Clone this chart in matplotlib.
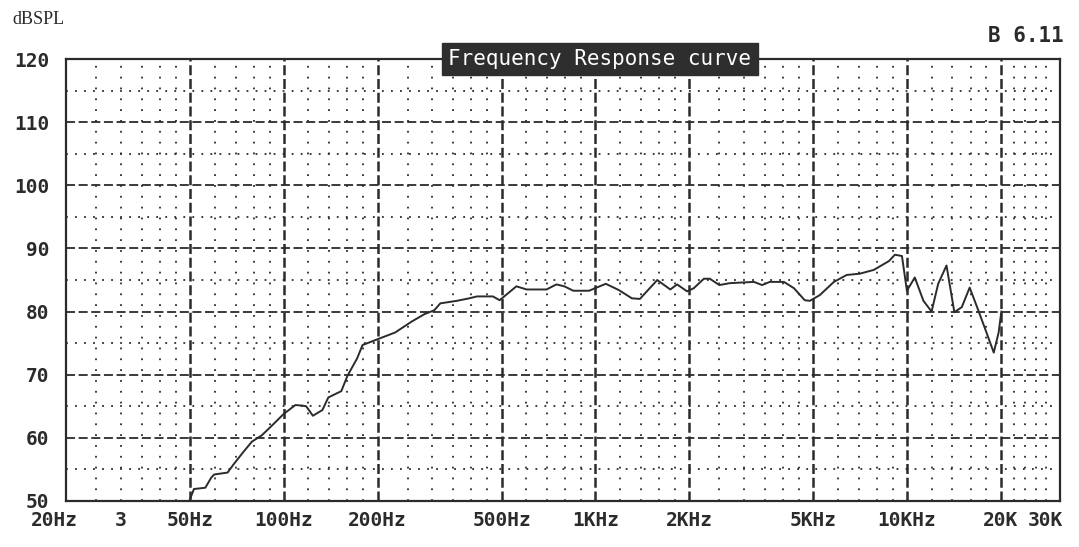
import numpy as np
import matplotlib
matplotlib.use("Agg")
from matplotlib import pyplot as plt
from matplotlib.transforms import ScaledTranslation

# frequency response (Hz, dBSPL)
freq = [50, 51.5, 56, 58.5, 59.8, 66, 69, 74, 79, 85, 91, 100, 109, 115, 118,
        124, 133, 139, 153, 160, 172, 179, 202, 228, 257, 283, 304, 318, 359,
        394, 417, 469, 493, 558, 602, 697, 750, 795, 850, 955, 1080, 1190,
        1310, 1390, 1580, 1740, 1830, 1970, 2070, 2230, 2330, 2500, 2700,
        3230, 3430, 3630, 4030, 4340, 4700, 4880, 5250, 5830, 6410, 7060,
        7830, 8760, 9150, 9640, 10000, 10600, 11300, 12000, 12600, 13400,
        14200, 15000, 15900, 16800, 18000, 19000, 19700, 20100]
spl = [50.3, 51.9, 52.1, 53.7, 54.2, 54.5, 55.8, 57.7, 59.4, 60.4, 61.8, 63.8,
       65.2, 65.1, 65.0, 63.5, 64.4, 66.4, 67.4, 69.8, 72.6, 74.7, 75.7, 76.7,
       78.4, 79.6, 80.2, 81.3, 81.7, 82.1, 82.4, 82.4, 81.8, 84.0, 83.5, 83.5,
       84.3, 84.0, 83.3, 83.3, 84.4, 83.4, 82.1, 82.0, 85.0, 83.5, 84.3, 83.2,
       83.7, 85.2, 85.2, 84.2, 84.5, 84.7, 84.2, 84.7, 84.7, 83.7, 81.8, 81.7,
       82.6, 84.7, 85.8, 86.0, 86.6, 88.0, 89.0, 88.8, 83.3, 85.4, 81.7, 80.0,
       84.4, 87.3, 79.9, 80.7, 83.8, 80.7, 76.7, 73.5, 76.7, 80.0]

# grid / tick layout
major_freq = [50, 100, 200, 500, 1000, 2000, 5000, 10000, 20000]
minor_freq = [25, 30, 35, 40, 45, 60, 70, 80, 90, 120, 140, 160, 180,
              250, 300, 350, 400, 450, 600, 700, 800, 900,
              1200, 1400, 1600, 1800, 2500, 3000, 3500, 4000, 4500,
              6000, 7000, 8000, 9000, 12000, 14000, 16000, 18000,
              22000, 24000, 26000, 28000]
xtick_pos = [20, 30, 50, 100, 200, 500, 1000, 2000, 5000, 10000, 20000, 30000]
xtick_labels = ["20Hz", "3", "50Hz", "100Hz", "200Hz", "500Hz", "1KHz",
                "2KHz", "5KHz", "10KHz", "20K", "30K"]
ytick_pos = [50, 60, 70, 80, 90, 100, 110, 120]

ink = "#2b2b2b"
mono = "DejaVu Sans Mono"

fig = plt.figure(figsize=(10.79, 5.47), dpi=100)
ax = fig.add_axes([66 / 1079, 46 / 547, 994 / 1079, 442 / 547])
ax.set_xscale("log")
ax.set_xlim(20, 31000)
ax.set_ylim(50, 120)

# dotted minor grid
for f in minor_freq:
    ax.axvline(f, color=ink, lw=1.3, ls=(0, (1, 5)), zorder=1)
for db in range(55, 120, 10):
    ax.axhline(db, color=ink, lw=1.3, ls=(0, (1, 4)), zorder=1)

# dashed major grid
for f in major_freq:
    ax.axvline(f, color=ink, lw=1.8, ls=(0, (4, 1.5)), zorder=2)
for db in range(60, 120, 10):
    ax.axhline(db, color=ink, lw=1.3, ls=(0, (5, 2)), zorder=2)

ax.plot(freq, spl, color=ink, lw=1.4, zorder=3)

for s in ax.spines.values():
    s.set_color(ink)
    s.set_linewidth(1.6)

ax.minorticks_off()
ax.set_xticks(xtick_pos)
ax.set_xticklabels(xtick_labels, fontfamily=mono, fontweight="bold",
                   fontsize=14, color=ink)
ax.set_yticks(ytick_pos)
ax.set_yticklabels([str(v) for v in ytick_pos], fontfamily=mono,
                   fontweight="bold", fontsize=14, color=ink)
ax.tick_params(axis="both", length=0)
ax.tick_params(axis="x", pad=7)
ax.tick_params(axis="y", pad=12)

# nudge the end labels the way the printout has them
lbls = ax.get_xticklabels()
lbls[0].set_transform(lbls[0].get_transform() + ScaledTranslation(-0.12, 0, fig.dpi_scale_trans))
lbls[-1].set_transform(lbls[-1].get_transform() + ScaledTranslation(-0.1, 0, fig.dpi_scale_trans))

ax.text(0.537, 1.0, "Frequency Response curve", transform=ax.transAxes,
        ha="center", va="center", fontsize=15, fontfamily=mono, color="white",
        zorder=5, bbox=dict(boxstyle="square,pad=0.3", facecolor="#2e2e2e",
                            edgecolor="#2e2e2e"))

fig.text(12 / 1079, 1 - 20 / 547, "dBSPL", fontfamily="Liberation Serif",
         fontsize=13, color=ink, ha="left", va="center")
fig.text(1064 / 1079, 1 - 36 / 547, "B 6.11", fontfamily=mono,
         fontweight="bold", fontsize=15, color=ink, ha="right", va="center")

fig.savefig("out.png", dpi=100, facecolor="white")
